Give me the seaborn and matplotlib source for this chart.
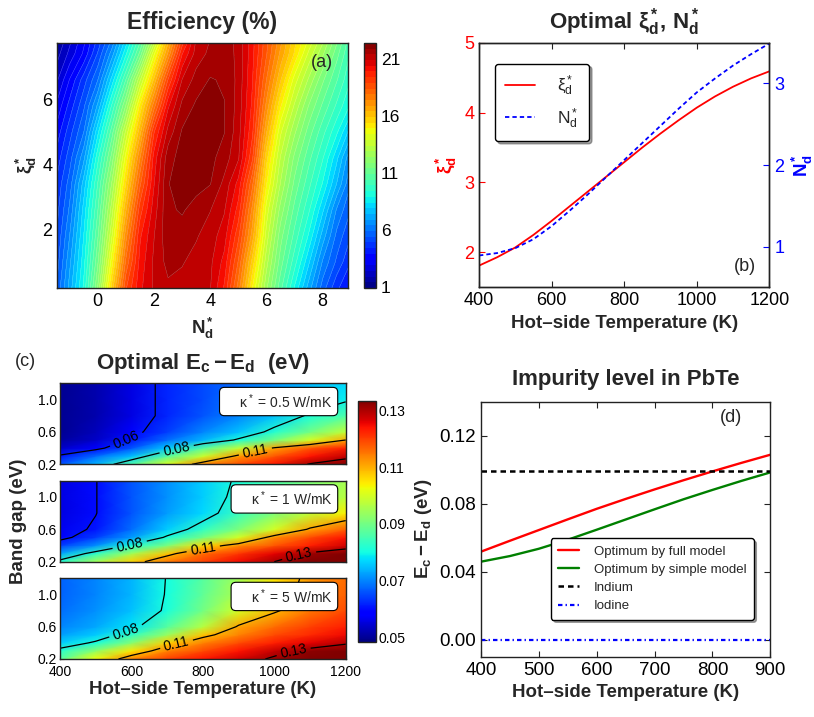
import numpy as np
import pandas as pd
import matplotlib
matplotlib.use("Agg")
import matplotlib.pyplot as plt
import seaborn as sns
from matplotlib.colors import Normalize
from matplotlib.cm import ScalarMappable

# ------------------------------------------------------------------ data
# (a) efficiency (%) map, rows = xi_d*, columns = N_d*
a_N = [-1.5, -1.0, -0.5, 0.0, 0.5, 1.0, 1.5, 2.0, 2.5, 3.0, 3.5, 4.0,
       4.5, 5.0, 5.5, 6.0, 6.5, 7.0, 7.5, 8.0, 8.5, 9.0]
a_xi = [0.2, 1.0, 1.8, 2.6, 3.4, 4.2, 5.0, 5.8, 6.6, 7.4, 7.8]
a_eff_y02 = [5.3, 7.1, 9.0, 11.95, 15.6, 18.84, 20.27, 20.98, 21.29, 21.23, 21.08, 20.93,
             19.83, 17.68, 14.9, 12.5, 10.56, 8.83, 7.17, 5.65, 4.5, 3.9]
a_eff_y10 = [5.0, 6.77, 8.69, 11.32, 14.67, 18.01, 20.07, 21.0, 21.57, 21.44, 21.23, 21.01,
             20.23, 18.35, 15.71, 13.1, 11.14, 9.61, 8.0, 6.33, 5.29, 4.4]
a_eff_y18 = [4.8, 6.4, 8.4, 10.82, 13.85, 17.22, 19.81, 20.88, 21.75, 21.67, 21.45, 21.15,
             20.63, 19.03, 16.66, 13.68, 11.6, 10.23, 8.83, 7.17, 5.75, 4.9]
a_eff_y26 = [4.6, 6.0, 8.08, 10.37, 13.17, 16.36, 19.16, 20.66, 21.81, 21.96, 21.69, 21.42,
             20.95, 19.7, 17.25, 14.18, 12.2, 10.73, 9.5, 8.0, 6.33, 5.4]
a_eff_y34 = [4.4, 5.63, 7.62, 9.93, 12.46, 15.45, 18.29, 20.37, 21.88, 22.11, 22.09, 21.92,
             21.26, 20.23, 18.01, 14.94, 12.86, 11.25, 10.07, 8.85, 7.38, 5.9]
a_eff_y42 = [4.0, 5.18, 6.75, 9.24, 11.6, 14.62, 17.39, 20.11, 21.71, 22.1, 22.28, 22.05,
             21.66, 20.97, 18.99, 15.59, 13.35, 11.76, 10.58, 9.45, 8.03, 6.4]
a_eff_y50 = [3.5, 4.69, 5.88, 8.25, 10.65, 13.53, 16.23, 19.36, 21.07, 21.96, 22.17, 22.12,
             21.92, 21.11, 19.51, 16.46, 14.0, 12.5, 11.17, 10.08, 9.0, 7.6]
a_eff_y58 = [2.9, 4.09, 5.29, 7.0, 9.47, 11.94, 15.04, 17.68, 20.3, 21.54, 21.99, 22.13,
             21.92, 21.2, 19.78, 17.25, 14.98, 13.31, 11.88, 10.8, 9.8, 8.8]
a_eff_y66 = [2.2, 3.43, 4.65, 5.88, 8.08, 10.42, 13.29, 16.02, 18.93, 20.92, 21.61, 21.94,
             21.84, 21.26, 19.93, 17.9, 15.96, 14.17, 12.82, 11.5, 10.45, 9.4]
a_eff_y74 = [1.6, 2.55, 3.5, 4.95, 6.64, 8.79, 11.05, 14.3, 17.0, 19.87, 21.12, 21.53,
             21.68, 21.27, 20.05, 18.45, 16.77, 15.33, 13.79, 12.5, 11.09, 9.8]
a_eff_y78 = [1.3, 2.28, 3.27, 4.55, 6.0, 8.11, 10.28, 13.1, 16.25, 19.08, 20.97, 21.42,
             21.62, 21.28, 20.1, 18.55, 17.07, 15.56, 14.3, 13.01, 11.5, 10.0]
a_cbar_ticks = [1, 6, 11, 16, 21]

# (b) optimal xi_d*, N_d*
b_T = [400, 450, 500, 550, 600, 650, 700, 750, 800, 850, 900, 950, 1000,
       1050, 1100, 1150, 1200]
b_xi = [1.81, 1.93, 2.07, 2.25, 2.45, 2.66, 2.87, 3.08, 3.29, 3.50, 3.70, 3.89,
        4.07, 4.23, 4.37, 4.49, 4.59]
b_N = [0.89, 0.92, 0.98, 1.09, 1.25, 1.44, 1.64, 1.85, 2.06, 2.27, 2.48, 2.69,
       2.89, 3.06, 3.22, 3.36, 3.49]

# (c) optimal Ec-Ed (eV) maps, rows = band gap, columns = temperature
c_T = [400, 500, 600, 700, 800, 900, 1000, 1100, 1200]
c_Eg = [0.2, 0.3, 0.4, 0.5, 0.6, 0.8, 1.0, 1.2]
c_k05 = [[0.066, 0.074, 0.086, 0.101, 0.114, 0.119, 0.124, 0.1305, 0.134],
         [0.061, 0.068, 0.075, 0.087, 0.099, 0.112, 0.118, 0.124, 0.128],
         [0.054, 0.058, 0.066, 0.076, 0.087, 0.098, 0.111, 0.118, 0.123],
         [0.051, 0.054, 0.061, 0.068, 0.074, 0.081, 0.090, 0.100, 0.110],
         [0.050, 0.053, 0.058, 0.064, 0.070, 0.075, 0.082, 0.090, 0.098],
         [0.050, 0.052, 0.056, 0.062, 0.066, 0.070, 0.075, 0.081, 0.086],
         [0.050, 0.052, 0.056, 0.062, 0.065, 0.069, 0.072, 0.076, 0.079],
         [0.050, 0.052, 0.056, 0.062, 0.065, 0.068, 0.071, 0.074, 0.077]]
c_k1 = [[0.082, 0.095, 0.107, 0.115, 0.120, 0.125, 0.130, 0.134, 0.137],
        [0.073, 0.083, 0.095, 0.108, 0.116, 0.121, 0.126, 0.131, 0.134],
        [0.064, 0.071, 0.081, 0.091, 0.106, 0.113, 0.118, 0.123, 0.127],
        [0.058, 0.064, 0.072, 0.081, 0.090, 0.100, 0.113, 0.119, 0.124],
        [0.057, 0.061, 0.068, 0.076, 0.083, 0.091, 0.100, 0.111, 0.117],
        [0.056, 0.0598, 0.066, 0.072, 0.077, 0.084, 0.091, 0.098, 0.104],
        [0.056, 0.0598, 0.066, 0.071, 0.076, 0.082, 0.087, 0.092, 0.097],
        [0.056, 0.0598, 0.066, 0.071, 0.076, 0.081, 0.086, 0.091, 0.095]]
c_k5 = [[0.087, 0.103, 0.114, 0.120, 0.124, 0.127, 0.131, 0.134, 0.136],
        [0.082, 0.093, 0.105, 0.114, 0.119, 0.124, 0.128, 0.132, 0.135],
        [0.076, 0.081, 0.092, 0.107, 0.114, 0.119, 0.123, 0.126, 0.129],
        [0.072, 0.076, 0.083, 0.094, 0.108, 0.114, 0.119, 0.122, 0.125],
        [0.070, 0.073, 0.078, 0.087, 0.097, 0.111, 0.116, 0.120, 0.123],
        [0.068, 0.071, 0.075, 0.081, 0.090, 0.100, 0.109, 0.115, 0.119],
        [0.067, 0.070, 0.074, 0.0805, 0.088, 0.096, 0.106, 0.113, 0.117],
        [0.067, 0.070, 0.074, 0.0803, 0.087, 0.095, 0.105, 0.112, 0.116]]
c_levels = [0.06, 0.08, 0.11, 0.13]
c_kappa_labels = ["0.5", "1", "5"]
c_cbar_ticks = [0.05, 0.07, 0.09, 0.11, 0.13]

# (d) impurity level in PbTe
d_T = [400, 450, 500, 550, 600, 650, 700, 750, 800, 850, 900]
d_full = [0.0518, 0.0582, 0.0645, 0.0708, 0.0770, 0.0828, 0.0884, 0.0938, 0.0990,
          0.1040, 0.1088]
d_simple = [0.0459, 0.0492, 0.0535, 0.0588, 0.0647, 0.0707, 0.0767, 0.0826, 0.0881,
            0.0934, 0.0984]
d_ref_T = [400, 900]
d_indium = [0.099, 0.099]
d_iodine = [0.0, 0.0]

# ------------------------------------------------------------------ style
sns.set_style("ticks")
plt.rcParams.update({
    "font.family": ["Liberation Sans", "DejaVu Sans"],
    "mathtext.fontset": "custom",
    "mathtext.rm": "Liberation Sans",
    "mathtext.it": "Liberation Sans:italic",
    "mathtext.bf": "Liberation Sans:bold",
    "xtick.direction": "in",
    "ytick.direction": "in",
    "axes.linewidth": 1.0,
    "axes.edgecolor": "#222222",
    "xtick.color": "#222222",
    "ytick.color": "#222222",
    "xtick.labelcolor": "black",
    "ytick.labelcolor": "black",
})

W, H = 814, 717
fig = plt.figure(figsize=(W / 100, H / 100), dpi=100)


def box(x0, y0, x1, y1):
    return [x0 / W, 1 - y1 / H, (x1 - x0) / W, (y1 - y0) / H]


LAB = 13.5
TIT = 16

# ------------------------------------------------------------------ (a)
ax_a = fig.add_axes(box(57, 43, 348, 288))
Z_a = np.array([a_eff_y02, a_eff_y10, a_eff_y18, a_eff_y26, a_eff_y34, a_eff_y42,
                a_eff_y50, a_eff_y58, a_eff_y66, a_eff_y74, a_eff_y78])
levels_a = np.arange(0.9, 22.41, 0.5)
cf = ax_a.contourf(a_N, a_xi, Z_a, levels=levels_a, cmap="jet")
ax_a.contour(a_N, a_xi, Z_a, levels=levels_a, colors="white", linewidths=0.3, alpha=0.4)
ax_a.set_xlim(-1.45, 8.9)
ax_a.set_ylim(0.2, 7.73)
ax_a.set_xticks([0, 2, 4, 6, 8])
ax_a.set_yticks([2, 4, 6])
ax_a.tick_params(labelsize=13, top=True, right=True, length=4)
ax_a.set_title("Efficiency (%)", fontweight="bold", fontsize=16.5, pad=10)
ax_a.set_xlabel(r"$\mathbf{N_d^*}$", fontsize=LAB, labelpad=4)
ax_a.set_ylabel(r"$\mathbf{\xi_d^*}$", fontsize=LAB, labelpad=2)
ax_a.text(0.91, 0.92, "(a)", transform=ax_a.transAxes, ha="center", va="center", fontsize=13)

cax_a = fig.add_axes(box(364, 43, 376, 288))
cb_a = fig.colorbar(cf, cax=cax_a, ticks=a_cbar_ticks)
cb_a.ax.tick_params(labelsize=12.5, direction="in", length=3)
cb_a.outline.set_linewidth(1.0)

# ------------------------------------------------------------------ (b)
ax_b = fig.add_axes(box(479, 42.7, 769.3, 287.3))
df_b = pd.DataFrame({"T": b_T, "xi": b_xi, "N": b_N})
sns.lineplot(data=df_b, x="T", y="xi", ax=ax_b, color="red", lw=1.3, legend=False)
ax_b2 = ax_b.twinx()
sns.lineplot(data=df_b, x="T", y="N", ax=ax_b2, color="blue", lw=1.3,
             linestyle=(0, (2.4, 1.7)), legend=False)
ax_b.set_xlim(400, 1200)
ax_b.set_ylim(1.5, 5)
ax_b2.set_ylim(0.5, 3.5)
ax_b.set_xticks([400, 600, 800, 1000, 1200])
ax_b.set_yticks([2, 3, 4, 5])
ax_b2.set_yticks([1, 2, 3])
ax_b.tick_params(axis="x", labelsize=13, top=True, length=4)
ax_b.tick_params(axis="y", labelsize=13, colors="red", labelcolor="red", length=4)
ax_b2.tick_params(axis="y", labelsize=13, colors="blue", labelcolor="blue", length=4)
ax_b.set_xlabel("Hot–side Temperature (K)", fontweight="bold", fontsize=LAB)
ax_b.set_ylabel(r"$\mathbf{\xi_d^*}$", fontsize=LAB, color="red", labelpad=4)
ax_b2.set_ylabel(r"$\mathbf{N_d^*}$", fontsize=LAB, color="blue", labelpad=4)
ax_b.set_title(r"Optimal $\mathbf{\xi_d^*}$, $\mathbf{N_d^*}$", fontweight="bold",
               fontsize=TIT, pad=10)
ax_b2.text(0.915, 0.083, "(b)", transform=ax_b2.transAxes, ha="center", va="center", fontsize=13)
hl = [ax_b.get_lines()[0], ax_b2.get_lines()[0]]
ax_b2.legend(hl, [r"$\mathrm{\xi_d^*}$", r"$\mathrm{N_d^*}$"], loc="upper left",
             bbox_to_anchor=(0.025, 0.95), fontsize=12.5, frameon=True, fancybox=True,
             framealpha=1, edgecolor="black", shadow=True, handlelength=1.7,
             handletextpad=1.3, labelspacing=0.45, borderpad=0.6)

# ------------------------------------------------------------------ (c)
norm_c = Normalize(0.0484, 0.1333)
c_fields = [c_k05, c_k1, c_k5]
c_boxes = [box(60, 383.3, 345.7, 464.3), box(60, 480.7, 345.7, 561.7),
           box(60, 578.3, 345.7, 659)]
c_manual = [[(586, 0.50), (726, 0.40), (946, 0.38)],
            [(595, 0.41), (801, 0.36), (1067, 0.32)],
            [(586, 0.52), (726, 0.39), (1053, 0.32)]]
c_axes = []
for i, (Z, pos, man, kl) in enumerate(zip(c_fields, c_boxes, c_manual, c_kappa_labels)):
    ax = fig.add_axes(pos)
    Zc = np.array(Z)
    ax.pcolormesh(c_T, c_Eg, Zc, shading="gouraud", cmap="jet", norm=norm_c)
    cs = ax.contour(c_T, c_Eg, Zc, levels=c_levels, colors="black", linewidths=0.9)
    ax.clabel(cs, fmt="%.2f", fontsize=10, inline=True, inline_spacing=4, manual=man)
    ax.set_xlim(400, 1200)
    ax.set_ylim(0.2, 1.2)
    ax.set_xticks([400, 600, 800, 1000, 1200])
    ax.set_yticks([0.2, 0.6, 1.0])
    ax.set_yticklabels(["0.2", "0.6", "1.0"])
    ax.tick_params(labelsize=10, top=True, right=True, length=3, pad=2)
    ax.tick_params(axis="x", pad=4)
    if i < 2:
        ax.tick_params(labelbottom=False)
    ax.text(0.955, 0.775, "    κ$^*$ = " + kl + " W/mK", transform=ax.transAxes,
            ha="right", va="center", fontsize=10,
            bbox=dict(boxstyle="round,pad=0.35", fc="white", ec="black", lw=0.8))
    c_axes.append(ax)
c_axes[0].set_title(r"Optimal $\mathbf{E_c-E_d}$  (eV)", fontweight="bold",
                    fontsize=TIT, pad=10)
c_axes[2].set_xlabel("Hot–side Temperature (K)", fontweight="bold", fontsize=LAB, labelpad=2)
fig.text(19 / W, 1 - 521 / H, "Band gap (eV)", rotation=90, fontweight="bold",
         fontsize=LAB, ha="center", va="center")
fig.text(25 / W, 1 - 362 / H, "(c)", fontsize=13, ha="center", va="center")

cax_c = fig.add_axes(box(358, 400.7, 375.7, 642.3))
cb_c = fig.colorbar(ScalarMappable(norm=norm_c, cmap="jet"), cax=cax_c, ticks=c_cbar_ticks,
                    format="%.2f")
cb_c.ax.tick_params(labelsize=10, direction="in", length=3, pad=2)
cb_c.outline.set_linewidth(1.0)

# ------------------------------------------------------------------ (d)
ax_d = fig.add_axes(box(481, 401.7, 770.3, 656.7))
df_d = pd.DataFrame({"T": d_T, "full": d_full, "simple": d_simple})
df_ref = pd.DataFrame({"T": d_ref_T, "In": d_indium, "I": d_iodine})
sns.lineplot(data=df_d, x="T", y="full", ax=ax_d, color="red", lw=1.7,
             label="Optimum by full model")
sns.lineplot(data=df_d, x="T", y="simple", ax=ax_d, color=(0, 0.5, 0), lw=1.7,
             label="Optimum by simple model")
sns.lineplot(data=df_ref, x="T", y="In", ax=ax_d, color="black", lw=1.8,
             linestyle=(0, (2.2, 1.6)), label="Indium")
sns.lineplot(data=df_ref, x="T", y="I", ax=ax_d, color="blue", lw=1.6,
             linestyle=(0, (2.0, 1.4, 0.6, 1.4)), label="Iodine")
ax_d.set_xlim(400, 900)
ax_d.set_ylim(-0.01, 0.14)
ax_d.set_xticks([400, 500, 600, 700, 800, 900])
ax_d.set_yticks([0.0, 0.04, 0.08, 0.12])
ax_d.set_yticklabels(["0.00", "0.04", "0.08", "0.12"])
ax_d.tick_params(labelsize=13.5, top=True, right=True, length=4)
ax_d.set_xlabel("Hot–side Temperature (K)", fontweight="bold", fontsize=LAB)
ax_d.set_ylabel(r"$\mathbf{E_c-E_d}$ (eV)", fontweight="bold", fontsize=LAB)
ax_d.set_title("Impurity level in PbTe", fontweight="bold", fontsize=TIT, pad=12)
ax_d.text(0.864, 0.94, "(d)", transform=ax_d.transAxes, ha="center", va="center", fontsize=13)
ax_d.legend(loc="lower right", bbox_to_anchor=(0.965, 0.12), fontsize=9.5, frameon=True,
            fancybox=True, framealpha=1, edgecolor="black", shadow=True,
            handlelength=1.6, handletextpad=1.1, labelspacing=0.45, borderpad=0.55)

fig.savefig("out.png", dpi=100)
